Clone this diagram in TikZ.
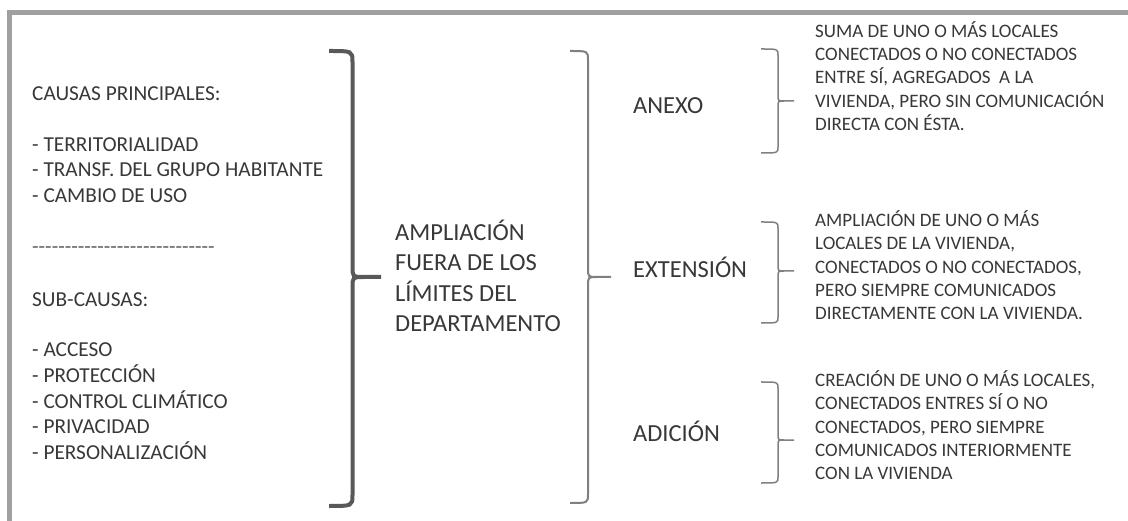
\documentclass[tikz,border=0pt]{standalone}
\usepackage{fontspec}
\setmainfont{Carlito}
\definecolor{tx}{HTML}{383838}
\definecolor{framegrey}{HTML}{A0A0A0}
\definecolor{bracedark}{HTML}{595959}
\definecolor{bracegrey}{HTML}{808080}
\newcommand\mybrace[8]{%
  \draw[#1] (#2,#5) .. controls (#3,#5) .. ({#3},{#5+#8}) -- ({#3},{#6-#8})
    .. controls (#3,#6) .. ({#3+#8},#6) -- (#4,#6)
    ({#3+#8},#6) .. controls (#3,#6) .. ({#3},{#6+#8}) -- ({#3},{#7-#8})
    .. controls (#3,#7) .. (#2,#7);}
\tikzset{
  txt/.style={anchor=base west, inner sep=0pt, text=tx},
  lefttxt/.style={txt, font=\fontsize{21.3}{25}\selectfont},
  midtxt/.style={txt, font=\fontsize{24.5}{30}\selectfont},
  labtxt/.style={txt, font=\fontsize{24.5}{30}\selectfont},
  desctxt/.style={txt, font=\fontsize{19}{23}\selectfont},
  bigbrace/.style={draw=bracedark, line width=4pt},
  midbrace/.style={draw=bracegrey, line width=2pt},
  smallbrace/.style={draw=bracegrey, line width=1.5pt},
}
\begin{document}
\begin{tikzpicture}[x=1pt,y=-1pt]
\useasboundingbox (0,0) rectangle (1128,521);
\clip (0,0) rectangle (1128,521);
\fill[white] (0,0) rectangle (1128,521);
% frame
\draw[framegrey, line width=5pt] (9.5,600) -- (9.5,12.5) -- (1200,12.5);
% left column
\node[lefttxt] (c0) at (32,100.6) {CAUSAS PRINCIPALES:};
\node[lefttxt] (c1) at (32,151.1) {- TERRITORIALIDAD};
\node[lefttxt] (c2) at (32,176.9) {- TRANSF. DEL GRUPO HABITANTE};
\node[lefttxt] (c3) at (32,202.6) {- CAMBIO DE USO};
\node[lefttxt, text=tx!80] (dash) at (32,254) {-{}-{}-{}-{}-{}-{}-{}-{}-{}-{}-{}-{}-{}-{}-{}-{}-{}-{}-{}-{}-{}-{}-{}-{}-{}-{}-{}-{}};
\node[lefttxt] (s0) at (32,306.6) {SUB-CAUSAS:};
\node[lefttxt] (s1) at (32,356.6) {- ACCESO};
\node[lefttxt] (s2) at (32,382.6) {- PROTECCIÓN};
\node[lefttxt] (s3) at (32,408.6) {- CONTROL CLIMÁTICO};
\node[lefttxt] (s4) at (32,433.6) {- PRIVACIDAD};
\node[lefttxt] (s5) at (32,459.6) {- PERSONALIZACIÓN};
% big brace
\mybrace{bigbrace}{329}{352.5}{381}{51}{277}{506}{11}
% middle text
\node[midtxt] (m1) at (395,240.5) {AMPLIACIÓN};
\node[midtxt] (m2) at (395,270.8) {FUERA DE LOS};
\node[midtxt] (m3) at (395,301.1) {LÍMITES DEL};
\node[midtxt] (m4) at (395,331.4) {DEPARTAMENTO};
% second brace
\mybrace{midbrace}{570}{588}{611}{51}{277}{503}{9}
% labels
\node[labtxt] (anexo) at (633,113.5) {ANEXO};
\node[labtxt] (ext) at (633,278) {EXTENSIÓN};
\node[labtxt] (adi) at (633,441.5) {ADICIÓN};
% small braces
\mybrace{smallbrace}{761}{778}{794}{49}{101}{153}{6}
\mybrace{smallbrace}{761}{778}{794}{222}{271}{323}{6}
\mybrace{smallbrace}{761}{778}{794}{382}{440}{483}{6}
% descriptions
\node[desctxt] (a1) at (815,37.2) {SUMA DE UNO O MÁS LOCALES};
\node[desctxt] (a2) at (815,60.5) {CONECTADOS O NO CONECTADOS};
\node[desctxt] (a3) at (815,83.8) {ENTRE SÍ, AGREGADOS \ A LA};
\node[desctxt] (a4) at (815,107.1) {VIVIENDA, PERO SIN COMUNICACIÓN};
\node[desctxt] (a5) at (815,130.4) {DIRECTA CON ÉSTA.};
\node[desctxt] (e1) at (815,226.5) {AMPLIACIÓN DE UNO O MÁS};
\node[desctxt] (e2) at (815,249.8) {LOCALES DE LA VIVIENDA,};
\node[desctxt] (e3) at (815,273.1) {CONECTADOS O NO CONECTADOS,};
\node[desctxt] (e4) at (815,296.4) {PERO SIEMPRE COMUNICADOS};
\node[desctxt] (e5) at (815,319.7) {DIRECTAMENTE CON LA VIVIENDA.};
\node[desctxt] (d1) at (815,386.5) {CREACIÓN DE UNO O MÁS LOCALES,};
\node[desctxt] (d2) at (815,409.8) {CONECTADOS ENTRES SÍ O NO};
\node[desctxt] (d3) at (815,433.1) {CONECTADOS, PERO SIEMPRE};
\node[desctxt] (d4) at (815,456.4) {COMUNICADOS INTERIORMENTE};
\node[desctxt] (d5) at (815,479.7) {CON LA VIVIENDA};
\end{tikzpicture}
\end{document}
